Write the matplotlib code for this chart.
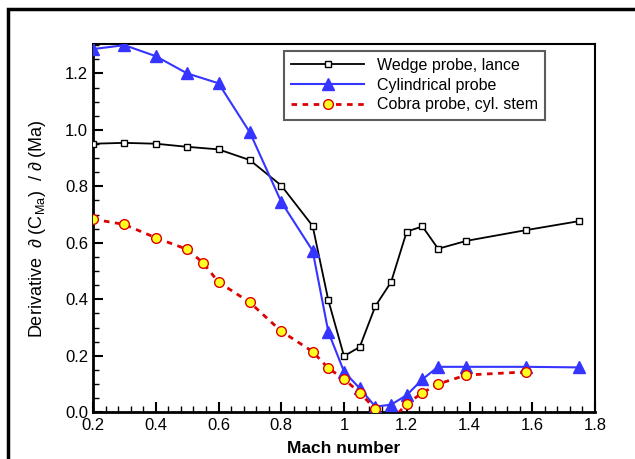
import matplotlib
matplotlib.use("Agg")
import matplotlib.pyplot as plt
from matplotlib.patches import Rectangle
from matplotlib.ticker import MultipleLocator

plt.rcParams['font.family'] = ['Liberation Sans', 'DejaVu Sans']
plt.rcParams['mathtext.fontset'] = 'custom'
plt.rcParams['mathtext.rm'] = 'Liberation Sans'

wedge_x = [0.2, 0.3, 0.4, 0.5, 0.6, 0.7, 0.8, 0.9, 0.95, 1.0, 1.05, 1.1, 1.15, 1.2, 1.25, 1.3, 1.39, 1.58, 1.75]
wedge_y = [0.951, 0.954, 0.951, 0.94, 0.931, 0.893, 0.803, 0.66, 0.397, 0.199, 0.231, 0.376, 0.461, 0.64, 0.658, 0.579, 0.607, 0.645, 0.677]

cyl_x = [0.2, 0.3, 0.4, 0.5, 0.6, 0.7, 0.8, 0.9, 0.95, 1.0, 1.05, 1.1, 1.15, 1.2, 1.25, 1.3, 1.39, 1.58, 1.75]
cyl_y = [1.286, 1.30, 1.261, 1.20, 1.165, 0.991, 0.745, 0.572, 0.285, 0.144, 0.085, 0.02, 0.027, 0.061, 0.117, 0.161, 0.161, 0.161, 0.159]

cobra_x = [0.2, 0.3, 0.4, 0.5, 0.55, 0.6, 0.7, 0.8, 0.9, 0.95, 1.0, 1.05, 1.1, 1.15, 1.2, 1.25, 1.3, 1.39, 1.58]
cobra_y = [0.684, 0.665, 0.618, 0.577, 0.53, 0.461, 0.389, 0.287, 0.215, 0.156, 0.118, 0.069, 0.012, -0.03, 0.03, 0.069, 0.10, 0.132, 0.143]

labels = ["Wedge probe, lance", "Cylindrical probe", "Cobra probe, cyl. stem"]

fig = plt.figure(figsize=(6.35, 4.59), dpi=100)
ax = fig.add_axes([93/635, 46.7/459, 502/635, 368/459])

ax.plot(wedge_x, wedge_y, color='black', lw=1.3, marker='s', ms=4.5,
        mfc='white', mec='black', mew=1.0, label=labels[0], zorder=3)
ax.plot(cyl_x, cyl_y, color='#3535ff', lw=1.5, marker='^', ms=8,
        mfc='#3535ff', mec='#3535ff', label=labels[1], zorder=4)
ax.plot(cobra_x, cobra_y, color='#dd0000', lw=2.0, ls=(0, (2, 2)), marker='o', ms=7,
        mfc='#ffff22', mec='#dd0000', mew=1.0, label=labels[2], zorder=5)

ax.set_xlim(0.2, 1.8)
ax.set_ylim(0.0, 1.303)
ax.xaxis.set_minor_locator(MultipleLocator(0.04))
ax.yaxis.set_minor_locator(MultipleLocator(0.05))
ax.set_xticks([0.2, 0.4, 0.6, 0.8, 1.0, 1.2, 1.4, 1.6, 1.8])
ax.set_xticklabels(['0.2', '0.4', '0.6', '0.8', '1', '1.2', '1.4', '1.6', '1.8'])
ax.set_yticks([0.0, 0.2, 0.4, 0.6, 0.8, 1.0, 1.2])
ax.set_yticklabels(['0.0', '0.2', '0.4', '0.6', '0.8', '1.0', '1.2'])
ax.tick_params(which='both', direction='in', top=False, right=False, labelsize=12, colors='black')
ax.tick_params(axis='x', which='major', pad=4)
ax.tick_params(which='major', length=7, width=1.5)
ax.tick_params(which='minor', length=4, width=1.0)
for s in ax.spines.values():
    s.set_linewidth(1.5)
ax.spines['left'].set_linewidth(2.0)
ax.spines['bottom'].set_linewidth(2.0)

ax.set_xlabel('Mach number', fontsize=12.5, fontweight='bold', labelpad=6)
ax.set_ylabel(r'Derivative  $\partial$ (C$_{\rm Ma}$)  / $\partial$ (Ma)', fontsize=13, labelpad=12)

leg = ax.legend(loc='upper left', bbox_to_anchor=(0.38, 0.983), fontsize=11.5,
                frameon=True, fancybox=False, handlelength=4.6, handletextpad=0.8,
                borderpad=0.45, labelspacing=0.3, borderaxespad=0)
leg.get_frame().set_edgecolor('#333333')
leg.get_frame().set_linewidth(1.5)

fig.patches.append(Rectangle((8/635, -0.05), 1.1, 1 - 8.5/459 + 0.05, transform=fig.transFigure,
                             fill=False, edgecolor='black', lw=2.5, clip_on=False))

fig.savefig('out.png', dpi=100)
